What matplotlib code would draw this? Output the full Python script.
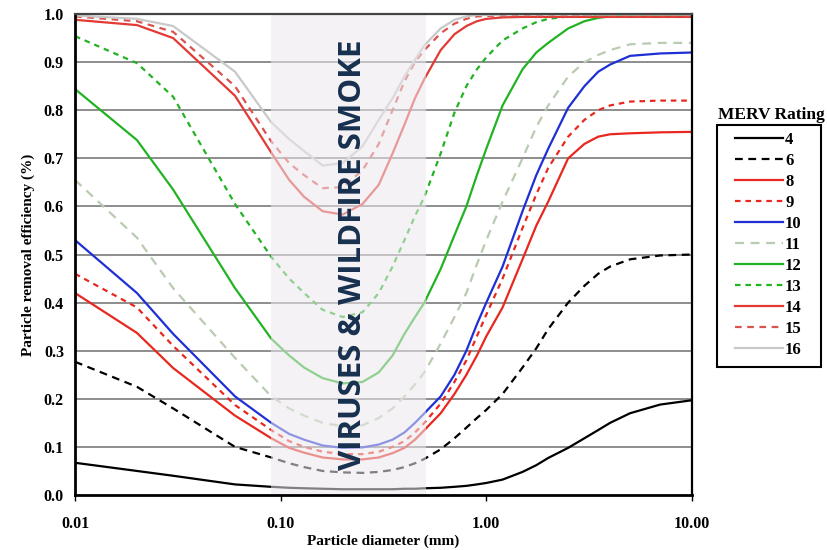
import matplotlib
matplotlib.use("Agg")
import matplotlib.pyplot as plt
from matplotlib.patches import Rectangle
from matplotlib.ticker import FixedLocator, NullLocator

# Particle diameter grid (mm)
diam = [0.01, 0.02, 0.03, 0.06, 0.09, 0.11, 0.13, 0.16, 0.2, 0.25, 0.3, 0.35, 0.4, 0.45, 0.5,
        0.6, 0.7, 0.8, 0.9, 1.0, 1.2, 1.5, 1.75, 2.0, 2.5, 3.0, 3.5, 4.0, 5.0, 7.0, 10.0]

merv4 = [0.067, 0.050, 0.040, 0.022, 0.017, 0.015, 0.014, 0.013, 0.012, 0.012, 0.012, 0.012,
         0.013, 0.013, 0.014, 0.015, 0.017, 0.019, 0.022, 0.025, 0.032, 0.048, 0.062, 0.077,
         0.098, 0.118, 0.135, 0.150, 0.170, 0.188, 0.197]
merv6 = [0.277, 0.225, 0.180, 0.100, 0.078, 0.066, 0.058, 0.050, 0.047, 0.046, 0.048, 0.052,
         0.058, 0.066, 0.075, 0.095, 0.118, 0.140, 0.160, 0.177, 0.210, 0.265, 0.305, 0.345,
         0.400, 0.435, 0.460, 0.475, 0.490, 0.498, 0.500]
merv8 = [0.420, 0.337, 0.264, 0.165, 0.118, 0.098, 0.088, 0.078, 0.074, 0.074, 0.078, 0.087,
         0.098, 0.115, 0.135, 0.170, 0.210, 0.250, 0.290, 0.330, 0.390, 0.490, 0.560, 0.610,
         0.700, 0.730, 0.745, 0.750, 0.752, 0.754, 0.755]
merv9 = [0.460, 0.390, 0.310, 0.187, 0.135, 0.112, 0.100, 0.090, 0.085, 0.085, 0.090, 0.100,
         0.112, 0.130, 0.150, 0.190, 0.235, 0.280, 0.330, 0.375, 0.450, 0.555, 0.625, 0.680,
         0.745, 0.780, 0.800, 0.810, 0.818, 0.820, 0.820]
merv10 = [0.530, 0.420, 0.335, 0.205, 0.150, 0.127, 0.115, 0.103, 0.098, 0.099, 0.105, 0.115,
          0.130, 0.150, 0.170, 0.205, 0.250, 0.300, 0.355, 0.400, 0.475, 0.590, 0.665, 0.720,
          0.805, 0.850, 0.880, 0.895, 0.913, 0.918, 0.920]
merv11 = [0.655, 0.535, 0.430, 0.285, 0.205, 0.180, 0.165, 0.150, 0.143, 0.145, 0.160, 0.180,
          0.205, 0.230, 0.255, 0.315, 0.370, 0.420, 0.480, 0.530, 0.610, 0.700, 0.765, 0.810,
          0.870, 0.900, 0.915, 0.925, 0.937, 0.940, 0.940]
merv12 = [0.844, 0.738, 0.635, 0.430, 0.325, 0.290, 0.265, 0.243, 0.232, 0.235, 0.255, 0.290,
          0.335, 0.370, 0.400, 0.470, 0.540, 0.600, 0.665, 0.720, 0.810, 0.885, 0.920, 0.940,
          0.970, 0.985, 0.992, 0.995, 0.998, 0.998, 0.998]
merv13 = [0.954, 0.898, 0.828, 0.605, 0.495, 0.450, 0.420, 0.385, 0.370, 0.380, 0.420, 0.475,
          0.530, 0.580, 0.620, 0.710, 0.795, 0.850, 0.885, 0.910, 0.945, 0.970, 0.983, 0.990,
          0.995, 0.998, 0.998, 0.998, 0.998, 0.998, 0.998]
merv14 = [0.988, 0.977, 0.950, 0.830, 0.712, 0.655, 0.620, 0.590, 0.583, 0.605, 0.645, 0.710,
          0.770, 0.825, 0.865, 0.925, 0.958, 0.975, 0.985, 0.990, 0.993, 0.994, 0.994, 0.994,
          0.994, 0.994, 0.994, 0.994, 0.994, 0.994, 0.994]
merv15 = [0.995, 0.985, 0.963, 0.850, 0.735, 0.690, 0.665, 0.638, 0.640, 0.675, 0.730, 0.800,
          0.860, 0.900, 0.925, 0.960, 0.980, 0.990, 0.995, 0.996, 0.997, 0.997, 0.997, 0.997,
          0.997, 0.997, 0.997, 0.997, 0.997, 0.997, 0.997]
merv16 = [0.997, 0.990, 0.975, 0.880, 0.775, 0.740, 0.715, 0.685, 0.690, 0.725, 0.780, 0.825,
          0.870, 0.905, 0.935, 0.970, 0.988, 0.995, 0.998, 0.998, 0.999, 0.999, 0.999, 0.999,
          0.999, 0.999, 0.999, 0.999, 0.999, 0.999, 0.999]

ratings = ["4", "6", "8", "9", "10", "11", "12", "13", "14", "15", "16"]
series = [merv4, merv6, merv8, merv9, merv10, merv11, merv12, merv13, merv14, merv15, merv16]
colors = ["#000000", "#000000", "#e8281e", "#e8281e", "#1f2fd6", "#b9cbb0", "#22b322",
          "#22b322", "#e23a35", "#d9534f", "#c9c9c9"]
styles = ["-", (0, (3.5, 2.5)), "-", (0, (2.5, 2.2)), "-", (0, (4, 3)), "-",
          (0, (2.5, 2.2)), "-", (0, (3, 2.5)), "-"]

yticks = [0.0, 0.1, 0.2, 0.3, 0.4, 0.5, 0.6, 0.7, 0.8, 0.9, 1.0]
xticks = [0.01, 0.1, 1.0, 10.0]
xticklabels = ["0.01", "0.10", "1.00", "10.00"]

serif = ["Liberation Serif", "DejaVu Serif"]

fig = plt.figure(figsize=(8.27, 5.5), dpi=100)
ax = fig.add_axes([0.0907, 0.1, 0.746, 0.8745])
ax.set_xscale("log")
ax.set_xlim(0.01, 10)
ax.set_ylim(0, 1.0)

for y in yticks[1:]:
    ax.axhline(y, color="#7a7a7a", lw=1.2, zorder=1)

handles = []
for lab, vals, c, ls in zip(ratings, series, colors, styles):
    h, = ax.plot(diam, vals, color=c, ls=ls, lw=1.6, zorder=2, label=lab)
    handles.append(h)

ax.axvspan(0.09, 0.51, color="#ece8ec", alpha=0.55, lw=0, zorder=3)

ax.text(0.225, 0.5, "VIRUSES & WILDFIRE SMOKE", rotation=90, ha="center", va="center",
        fontsize=22.5, fontweight="bold", color="#17304f", family=["Open Sans", "DejaVu Sans"],
        zorder=5)

ax.xaxis.set_major_locator(FixedLocator(xticks))
ax.xaxis.set_minor_locator(NullLocator())
ax.set_xticklabels(xticklabels)
ax.set_yticks(yticks)
ax.set_yticklabels([f"{v:.1f}" for v in yticks])
ax.tick_params(axis="x", length=4, width=1, direction="out", pad=11, labelsize=11.5)
ax.tick_params(axis="y", length=0, pad=8, labelsize=11.5)
for t in ax.get_xticklabels() + ax.get_yticklabels():
    t.set_family(serif)
    t.set_fontweight("bold")

ax.set_xlabel("Particle diameter (mm)", family=serif, fontweight="bold", fontsize=11, labelpad=2)
ax.set_ylabel("Particle removal efficiency (%)", family=serif, fontweight="bold", fontsize=11,
              labelpad=6)

ax.spines["left"].set_linewidth(2.0)
ax.spines["bottom"].set_linewidth(2.0)
ax.spines["right"].set_linewidth(1.6)
ax.spines["top"].set_linewidth(1.6)
ax.spines["top"].set_color("#444444")
for s in ax.spines.values():
    s.set_zorder(6)

# Legend (entries) and its frame
leg = fig.legend(handles=handles, labels=ratings, loc="upper left",
                 bbox_to_anchor=(735 / 827, 1 - 132 / 550), borderaxespad=0, borderpad=0,
                 frameon=False, handlelength=2.9, handletextpad=0.1, labelspacing=0.3,
                 prop={"family": serif, "weight": "bold", "size": 12})
fig.patches.append(Rectangle((717 / 827, 1 - 367 / 550), 104 / 827, 242 / 550,
                             transform=fig.transFigure, fill=False, edgecolor="black",
                             lw=1.5, zorder=0))
fig.text(771 / 827, 1 - 115 / 550, "MERV Rating", ha="center", va="center",
         family=serif, fontweight="bold", fontsize=12.5)

fig.savefig("out.png", dpi=100)
